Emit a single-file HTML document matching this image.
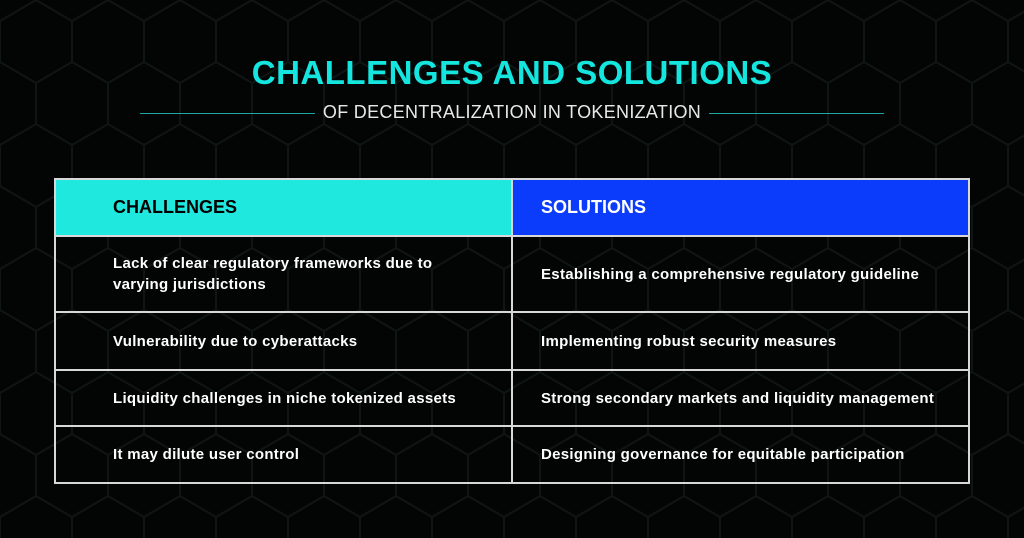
<!DOCTYPE html>
<html><head><style>
body{margin:0;width:1024px;height:538px;background:#030404;overflow:hidden;font-family:"Liberation Sans",sans-serif;position:relative}
.t{position:absolute;left:0;width:1024px;text-align:center;top:54px;font-size:33px;font-weight:bold;color:#14e6df;letter-spacing:0.5px}
.s{position:absolute;left:0;width:1024px;text-align:center;top:102px;font-size:18px;color:#e8e8e8;letter-spacing:0.3px}
.ln{position:absolute;top:113px;height:1px;background:#1fa5a2;width:175px}
.c{position:absolute;box-sizing:border-box;display:flex;align-items:center;color:#fff;font-weight:bold;font-size:15px;letter-spacing:0.3px;line-height:21px}
.b{position:absolute;background:#d8d8d8}
</style></head><body>
<svg style="position:absolute;left:0;top:0" width="1024" height="538">
<defs><pattern id="h" width="72" height="124" patternUnits="userSpaceOnUse">
<path d="M36 0 L72 21 L72 62 L36 83 L0 62 L0 21 Z M36 83 L36 124" fill="none" stroke="#0f1515" stroke-width="2"/></pattern></defs>
<rect width="1024" height="538" fill="url(#h)"/></svg>
<div class="t">CHALLENGES AND SOLUTIONS</div>
<div class="s">OF DECENTRALIZATION IN TOKENIZATION</div>
<div class="ln" style="left:140px"></div><div class="ln" style="left:709px"></div>

<div class="c" style="left:54px;top:178px;width:458px;height:58px;background:#1fe8df;color:#000;font-size:18px;letter-spacing:0;padding-left:59px">CHALLENGES</div>
<div class="c" style="left:512px;top:178px;width:458px;height:58px;background:#0b3cfb;font-size:18px;letter-spacing:0;padding-left:29px">SOLUTIONS</div>

<div class="c" style="left:54px;top:236px;width:458px;height:76px;padding-left:59px;padding-right:50px">Lack of clear regulatory frameworks due to varying jurisdictions</div>
<div class="c" style="left:512px;top:236px;width:458px;height:76px;padding-left:29px">Establishing a comprehensive regulatory guideline</div>
<div class="c" style="left:54px;top:312px;width:458px;height:58px;padding-left:59px">Vulnerability due to cyberattacks</div>
<div class="c" style="left:512px;top:312px;width:458px;height:58px;padding-left:29px">Implementing robust security measures</div>
<div class="c" style="left:54px;top:370px;width:458px;height:56px;padding-left:59px">Liquidity challenges in niche tokenized assets</div>
<div class="c" style="left:512px;top:370px;width:458px;height:56px;padding-left:29px;white-space:nowrap">Strong secondary markets and liquidity management</div>
<div class="c" style="left:54px;top:426px;width:458px;height:57px;padding-left:59px">It may dilute user control</div>
<div class="c" style="left:512px;top:426px;width:458px;height:57px;padding-left:29px">Designing governance for equitable participation</div>

<div class="b" style="left:54px;top:178px;width:916px;height:2px"></div>
<div class="b" style="left:54px;top:235px;width:916px;height:2px"></div>
<div class="b" style="left:54px;top:311px;width:916px;height:2px"></div>
<div class="b" style="left:54px;top:369px;width:916px;height:2px"></div>
<div class="b" style="left:54px;top:425px;width:916px;height:2px"></div>
<div class="b" style="left:54px;top:482px;width:916px;height:2px"></div>
<div class="b" style="left:54px;top:178px;width:2px;height:306px"></div>
<div class="b" style="left:511px;top:178px;width:2px;height:306px"></div>
<div class="b" style="left:968px;top:178px;width:2px;height:306px"></div>
</body></html>
